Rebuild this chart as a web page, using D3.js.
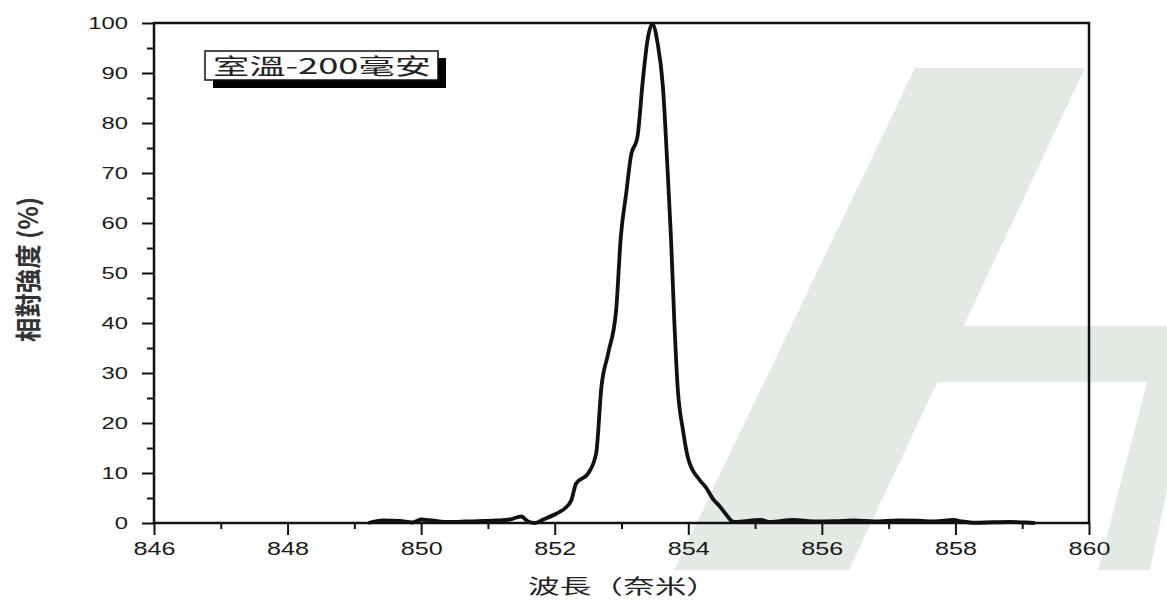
<html>
<head>
  <script src="https://d3js.org/d3.v7.min.js"></script>
  <style>
    body{ margin:0; background:#fff; }
    svg{ display:block; font-family:"Liberation Sans", Arial, sans-serif; }
    .cjk{ font-family:"Noto Sans CJK TC", "Noto Sans CJK SC", sans-serif; }
  </style>
</head>
<body>
  <script type="text/javascript">

    // wavelength (nm) and relative intensity (%)
    var wavelength = [849.21,849.43,849.68,849.87,850.00,850.16,850.43,850.68,850.93,851.13,
                      851.33,851.50,851.60,851.70,851.83,852.03,852.15,852.25,852.32,852.50,
                      852.62,852.70,852.80,852.92,852.99,853.07,853.14,853.24,853.32,853.39,
                      853.46,853.54,853.62,853.69,853.74,853.79,853.84,853.92,854.00,854.17,
                      854.27,854.37,854.46,854.56,854.64,854.69,855.09,855.22,855.58,855.87,
                      856.19,856.49,856.79,857.14,857.44,857.69,857.97,858.10,858.30,858.55,
                      858.81,859.06,859.19]
    var intensity = [0.0,0.5,0.4,0.1,0.7,0.5,0.2,0.3,0.4,0.5,
                     0.7,1.3,0.3,0.0,0.7,1.9,2.9,4.6,7.9,9.9,
                     13.9,27.3,33.9,42.6,57.3,65.9,73.3,77.3,88.6,96.6,
                     99.8,96.0,87.3,70.6,57.3,40.6,27.3,18.6,12.8,8.6,
                     7.0,4.8,3.5,1.8,0.5,0.2,0.6,0.2,0.6,0.3,
                     0.35,0.5,0.3,0.5,0.45,0.3,0.6,0.3,0.05,0.15,
                     0.2,0.1,0.0]
    var xTicks = [846,848,850,852,854,856,858,860]
    var yTicks = [0,10,20,30,40,50,60,70,80,90,100]
    var legendLabel = "室溫-200毫安"
    var xTitle = "波長（奈米）"
    var yTitle = "相對強度 (%)"

    var screen = {width:1167, height:601}
    var margins = {top:23, right:78, bottom:78, left:154}
    var width = screen.width - margins.left - margins.right
    var height = screen.height - margins.top - margins.bottom
    var stretch = 1.4   // the source picture is widened horizontally

    var svg = d3.select("body").append("svg")
      .attr("width", screen.width)
      .attr("height", screen.height)

    // faint watermark behind the chart
    var mark = svg.append("g").attr("fill", "#e2eae3")
    var shapes = [
      [[915,68],[1085,68],[849,570],[674,570]],
      [[950,326],[1167,326],[1167,382],[925,382]],
      [[1147,382],[1190,382],[1150,570],[1098,570]]
    ]
    mark.selectAll("polygon").data(shapes).enter().append("polygon")
      .attr("points", function(d){ return d.map(function(p){ return p.join(","); }).join(" "); })

    var xScale = d3.scaleLinear().domain([846, 860]).range([0, width])
    var yScale = d3.scaleLinear().domain([0, 100]).range([height, 0])

    var plot = svg.append("g")
      .attr("transform", "translate(" + margins.left + "," + margins.top + ")")

    // minor ticks
    var xMinor = d3.axisBottom(xScale).tickValues(d3.range(847, 860, 2)).tickSize(6).tickFormat("")
    var yMinor = d3.axisLeft(yScale).tickValues(d3.range(5, 100, 10)).tickSize(7).tickFormat("")
    plot.append("g").attr("transform", "translate(0," + height + ")").call(xMinor)
    plot.append("g").call(yMinor)

    var xAxis = d3.axisBottom(xScale).tickValues(xTicks).tickSize(12).tickPadding(7).tickFormat(d3.format("d"))
    var yAxis = d3.axisLeft(yScale).tickValues(yTicks).tickSize(12).tickPadding(0).tickFormat(d3.format("d"))

    var gx = plot.append("g").attr("transform", "translate(0," + height + ")").call(xAxis)
    var gy = plot.append("g").call(yAxis)

    plot.selectAll(".tick line").attr("stroke", "#111").attr("stroke-width", 2)
    plot.selectAll(".domain").remove()

    gx.selectAll("text")
      .attr("font-size", 18).attr("fill", "#1a1a1a")
      .attr("transform", "scale(" + stretch + ",1)")
    gy.selectAll("text")
      .attr("font-size", 17).attr("fill", "#1a1a1a")
      .attr("x", -26 / stretch)
      .attr("transform", "scale(" + stretch + ",1)")

    // frame
    plot.append("rect")
      .attr("width", width).attr("height", height)
      .attr("fill", "none").attr("stroke", "#111").attr("stroke-width", 2.5)

    // spectrum
    var points = wavelength.map(function(w, i){ return [w, intensity[i]]; })
    var line = d3.line()
      .x(function(d){ return xScale(d[0]); })
      .y(function(d){ return yScale(d[1]); })
      .curve(d3.curveMonotoneX)
    plot.append("path")
      .datum(points)
      .attr("d", line)
      .attr("fill", "none")
      .attr("stroke", "#111")
      .attr("stroke-width", 3.8)
      .attr("stroke-linejoin", "round")

    // legend box with drop shadow
    var legend = svg.append("g").attr("transform", "translate(205,51)")
    legend.append("rect").attr("x", 8).attr("y", 7).attr("width", 233).attr("height", 30).attr("fill", "#000")
    legend.append("rect").attr("width", 233).attr("height", 29)
      .attr("fill", "#fff").attr("stroke", "#111").attr("stroke-width", 1.5)
    legend.append("text").classed("cjk", true)
      .attr("x", 8).attr("y", 23)
      .attr("font-size", 22).attr("fill", "#222")
      .attr("textLength", 218).attr("lengthAdjust", "spacingAndGlyphs")
      .text(legendLabel)

    // axis titles
    svg.append("text").classed("cjk", true)
      .attr("x", 528).attr("y", 594)
      .attr("font-size", 20).attr("fill", "#222")
      .attr("textLength", 190).attr("lengthAdjust", "spacingAndGlyphs")
      .text(xTitle)

    svg.append("text").classed("cjk", true)
      .attr("transform", "translate(38,342) scale(" + stretch + ",1) rotate(-90)")
      .attr("font-size", 19).attr("font-weight", "bold").attr("fill", "#333")
      .attr("textLength", 145).attr("lengthAdjust", "spacingAndGlyphs")
      .text(yTitle)

  </script>
</body>
</html>
